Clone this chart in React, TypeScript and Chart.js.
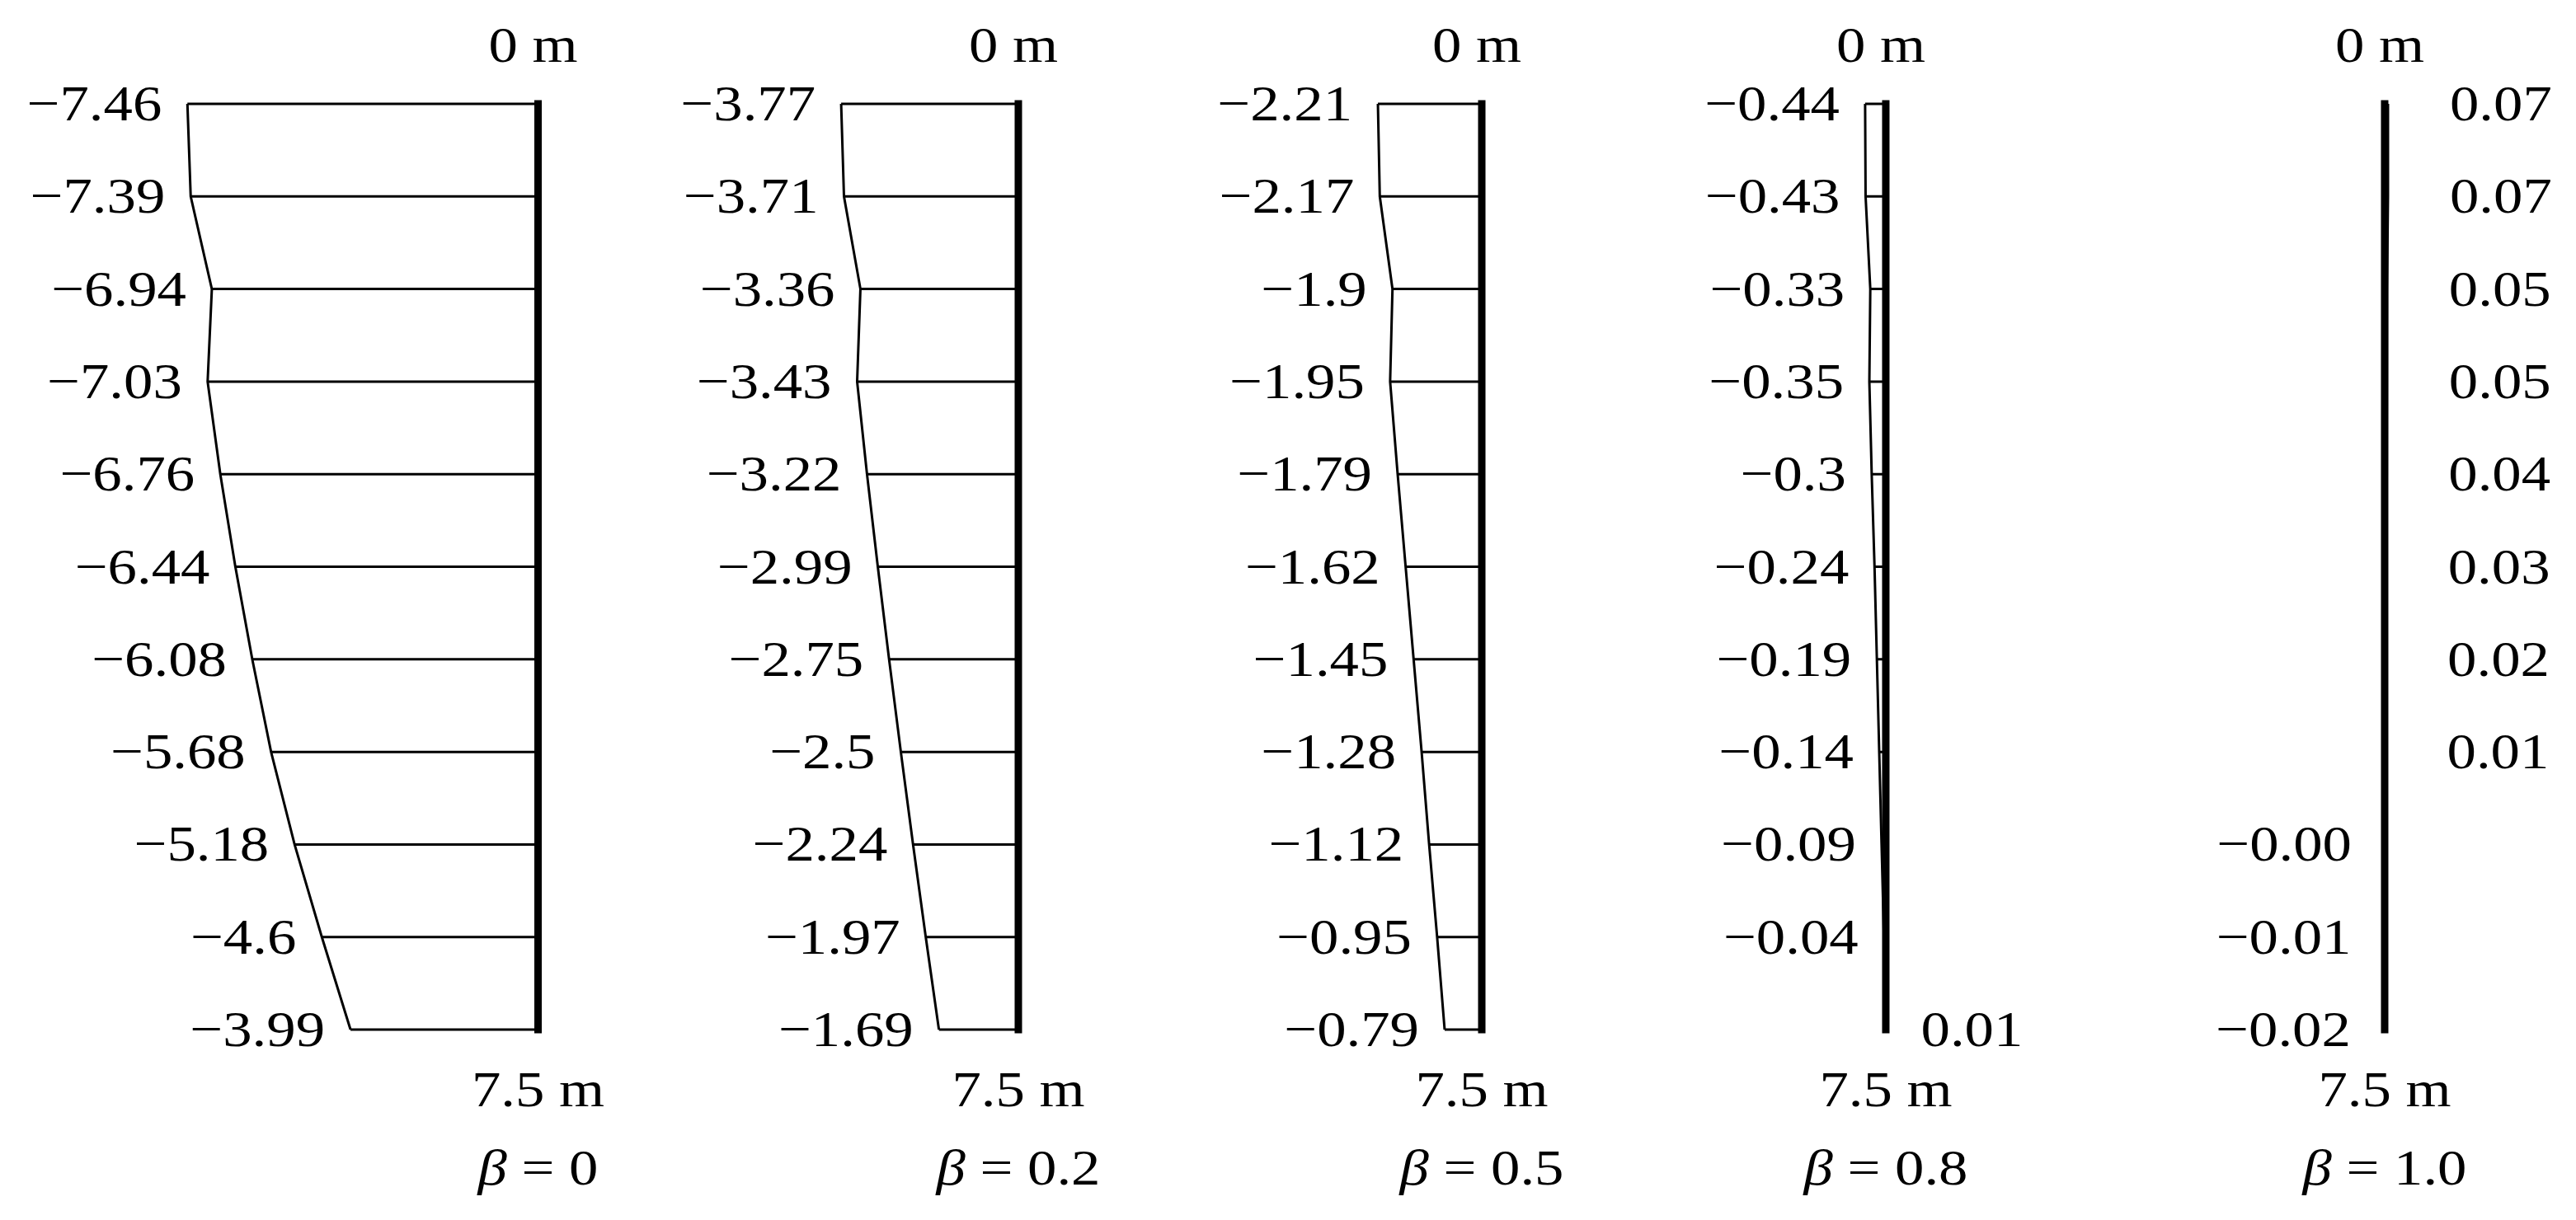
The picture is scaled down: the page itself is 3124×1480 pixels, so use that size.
import React, { useEffect, useRef } from "react";
import { Chart, registerables } from "chart.js";

Chart.register(...registerables);

// ---- data ----
const DEPTHS = [0, 0.75, 1.5, 2.25, 3, 3.75, 4.5, 5.25, 6, 6.75, 7.5];
const BETAS = ["0", "0.2", "0.5", "0.8", "1.0"];

const VALUES_B0 = [-7.46, -7.39, -6.94, -7.03, -6.76, -6.44, -6.08, -5.68, -5.18, -4.6, -3.99];
const VALUES_B02 = [-3.77, -3.71, -3.36, -3.43, -3.22, -2.99, -2.75, -2.5, -2.24, -1.97, -1.69];
const VALUES_B05 = [-2.21, -2.17, -1.9, -1.95, -1.79, -1.62, -1.45, -1.28, -1.12, -0.95, -0.79];
const VALUES_B08 = [-0.44, -0.43, -0.33, -0.35, -0.3, -0.24, -0.19, -0.14, -0.09, -0.04, 0.01];
const VALUES_B10 = [0.07, 0.07, 0.05, 0.05, 0.04, 0.03, 0.02, 0.01, -0.0, -0.01, -0.02];

const LABELS_B0 = ["−7.46", "−7.39", "−6.94", "−7.03", "−6.76", "−6.44", "−6.08", "−5.68", "−5.18", "−4.6", "−3.99"];
const LABELS_B02 = ["−3.77", "−3.71", "−3.36", "−3.43", "−3.22", "−2.99", "−2.75", "−2.5", "−2.24", "−1.97", "−1.69"];
const LABELS_B05 = ["−2.21", "−2.17", "−1.9", "−1.95", "−1.79", "−1.62", "−1.45", "−1.28", "−1.12", "−0.95", "−0.79"];
const LABELS_B08 = ["−0.44", "−0.43", "−0.33", "−0.35", "−0.3", "−0.24", "−0.19", "−0.14", "−0.09", "−0.04", "0.01"];
const LABELS_B10 = ["0.07", "0.07", "0.05", "0.05", "0.04", "0.03", "0.02", "0.01", "−0.00", "−0.01", "−0.02"];

const TOP_LABEL = "0 m";
const BOTTOM_LABEL = "7.5 m";

const SERIES = [VALUES_B0, VALUES_B02, VALUES_B05, VALUES_B08, VALUES_B10];
const LABELS = [LABELS_B0, LABELS_B02, LABELS_B05, LABELS_B08, LABELS_B10];

// ---- layout (not data) ----
const CANVAS_W = 3108;
const CANVAS_H = 1464;
const PX_PER_UNIT = 57;
const X_MAX = CANVAS_W / PX_PER_UNIT;
const AXIS_U = [11.307, 21.526, 31.386, 39.982, 50.596];
const GAP_LEFT = [31, 31, 31, 31, 40];
const GAP_RIGHT = [42, 42, 42, 42, 75];
const Y_MIN = -0.788;
const Y_MAX = 8.989;
const FONT_PX = 61;
const STRETCH = 1.16;
const FAMILY = "'Liberation Serif', 'Times New Roman', serif";

function drawText(ctx: CanvasRenderingContext2D, txt: string, x: number, y: number, align: CanvasTextAlign) {
  ctx.save();
  ctx.translate(x, y);
  ctx.scale(STRETCH, 1);
  ctx.font = `${FONT_PX}px ${FAMILY}`;
  ctx.textAlign = align;
  ctx.textBaseline = "alphabetic";
  ctx.fillText(txt, 0, 0);
  ctx.restore();
}

function drawBeta(ctx: CanvasRenderingContext2D, beta: string, cx: number, y: number) {
  ctx.save();
  ctx.font = `italic ${FONT_PX}px ${FAMILY}`;
  const wb = ctx.measureText("β").width;
  ctx.font = `${FONT_PX}px ${FAMILY}`;
  const rest = " = " + beta;
  const wr = ctx.measureText(rest).width;
  const total = (wb + wr) * STRETCH;
  ctx.translate(cx - total / 2, y);
  ctx.scale(STRETCH, 1);
  ctx.textAlign = "left";
  ctx.textBaseline = "alphabetic";
  ctx.font = `italic ${FONT_PX}px ${FAMILY}`;
  ctx.fillText("β", 0, 0);
  ctx.font = `${FONT_PX}px ${FAMILY}`;
  ctx.fillText(rest, wb, 0);
  ctx.restore();
}

const labelPlugin = {
  id: "profileLabels",
  afterDatasetsDraw(chart: any) {
    const { ctx } = chart;
    const xs = chart.scales.x;
    const ys = chart.scales.y;
    ctx.save();
    ctx.fillStyle = "#000";
    SERIES.forEach((vals, i) => {
      const ax = xs.getPixelForValue(AXIS_U[i]);
      vals.forEach((v, j) => {
        const px = xs.getPixelForValue(AXIS_U[i] + v);
        const py = ys.getPixelForValue(DEPTHS[j]);
        const txt = LABELS[i][j];
        if (txt.startsWith("−")) {
          drawText(ctx, txt, Math.min(px, ax) - GAP_LEFT[i], py + 20, "right");
        } else {
          drawText(ctx, txt, Math.max(px, ax) + GAP_RIGHT[i], py + 20, "left");
        }
      });
      const yTop = ys.getPixelForValue(DEPTHS[0]);
      const yBot = ys.getPixelForValue(DEPTHS[DEPTHS.length - 1]);
      drawText(ctx, TOP_LABEL, ax - 6, yTop - 51, "center");
      drawText(ctx, BOTTOM_LABEL, ax, yBot + 93, "center");
      drawBeta(ctx, BETAS[i], ax, yBot + 188);
    });
    ctx.restore();
  },
};

export default function App() {
  const ref = useRef<HTMLCanvasElement | null>(null);

  useEffect(() => {
    if (!ref.current) return;
    const datasets: any[] = [];
    SERIES.forEach((vals, i) => {
      const off = AXIS_U[i];
      const horiz: any[] = [];
      DEPTHS.forEach((d, j) => {
        horiz.push({ x: off, y: d });
        horiz.push({ x: off + vals[j], y: d });
        horiz.push({ x: off, y: null });
      });
      datasets.push({
        label: `levels-${BETAS[i]}`,
        data: horiz,
        borderColor: "#000",
        borderWidth: 3,
        borderJoinStyle: "miter",
        pointRadius: 0,
        spanGaps: false,
        order: 3,
      });
      datasets.push({
        label: `profile-${BETAS[i]}`,
        data: DEPTHS.map((d, j) => ({ x: off + vals[j], y: d })),
        borderColor: "#000",
        borderWidth: 3,
        borderJoinStyle: "miter",
        pointRadius: 0,
        order: 2,
      });
      datasets.push({
        label: `axis-${BETAS[i]}`,
        data: [
          { x: off, y: DEPTHS[0] },
          { x: off, y: DEPTHS[DEPTHS.length - 1] },
        ],
        borderColor: "#000",
        borderWidth: 9,
        borderCapStyle: "square",
        pointRadius: 0,
        order: 1,
      });
    });

    const chart = new Chart(ref.current, {
      type: "line",
      data: { datasets },
      options: {
        animation: false,
        responsive: false,
        devicePixelRatio: 1,
        layout: { padding: 0 },
        elements: { line: { tension: 0 }, point: { radius: 0 } },
        plugins: { legend: { display: false }, tooltip: { enabled: false } },
        scales: {
          x: { type: "linear", display: false, min: 0, max: X_MAX },
          y: { type: "linear", display: false, reverse: true, min: Y_MIN, max: Y_MAX },
        },
      },
      plugins: [labelPlugin],
    } as any);
    return () => chart.destroy();
  }, []);

  return (
    <canvas
      ref={ref}
      width={CANVAS_W}
      height={CANVAS_H}
      style={{ display: "block", width: CANVAS_W, height: CANVAS_H, background: "#fff" }}
    />
  );
}
